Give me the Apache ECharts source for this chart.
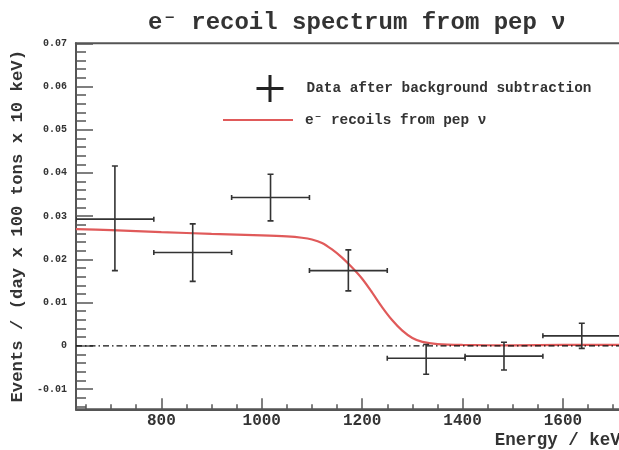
<!DOCTYPE html>
<html>
<head>
<meta charset="utf-8">
<script src="https://cdn.jsdelivr.net/npm/echarts@6/dist/echarts.min.js"></script>
<style>html,body{margin:0;padding:0;background:#fff}#c{width:619px;height:450px}</style>
</head>
<body>
<div id="c"></div>
<script>
// ---- data ----
const binLo     = [630, 785, 940, 1095, 1250, 1405, 1560];
const binHi     = [785, 940, 1095, 1250, 1405, 1560, 1715];
const binCenter = [707.5, 862.5, 1017.5, 1172.5, 1327.5, 1482.5, 1637.5];
const rate      = [0.0293, 0.0216, 0.0343, 0.0174, -0.0029, -0.0024, 0.0023];
const rateLo    = [0.0174, 0.0149, 0.0289, 0.0127, -0.0066, -0.0056, -0.0006];
const rateHi    = [0.0416, 0.0282, 0.0397, 0.0222, 0.0003, 0.0008, 0.0052];

const curveE = [630, 700, 800, 900, 1000, 1050, 1080, 1100, 1120, 1140, 1160, 1180, 1200, 1220, 1240, 1260, 1280, 1300, 1320, 1350, 1400, 1500, 1600, 1715];
const curveY = [0.0270, 0.02675, 0.0263, 0.0259, 0.02555, 0.0253, 0.0250, 0.0246, 0.0238, 0.0223, 0.0204, 0.0181, 0.0155, 0.0123, 0.0089, 0.0059, 0.0035, 0.0018, 0.0009, 0.0004, 0.0002, 0.0001, 0.0002, 0.0002];

const zeroLineE = [630, 1715];
const zeroLineY = [0, 0];

const xTickLabels = [800, 1000, 1200, 1400, 1600];
const yTickLabels = [-0.01, 0, 0.01, 0.02, 0.03, 0.04, 0.05, 0.06, 0.07];

const titleText = 'e\u207B recoil spectrum from pep \u03BD';
const dataName = 'Data after background subtraction';
const curveName = 'e\u207B recoils from pep \u03BD';
const xTitle = 'Energy / keV';
const yTitle = 'Events / (day x 100 tons x 10 keV)';

// ---- ticks ----
const X_MIN = 630, X_MAX = 1715, Y_MIN = -0.0147, Y_MAX = 0.07;
const xMinor = [];
for (let v = 650; v <= 1700; v += 50) if (v % 200 !== 0) xMinor.push(v);
const yMinor = [];
for (let k = -7; k <= 34; k++) { if (k % 5 !== 0) yMinor.push(Math.round(k * 2) / 1000); }

const FONT = '"Liberation Mono", "DejaVu Sans Mono", monospace';
const TXT = '#333';
const FRAME = '#555';

const errData = binCenter.map((c, i) => [c, rate[i], binLo[i], binHi[i], rateLo[i], rateHi[i]]);

function renderErr(params, api) {
  const x = api.value(0), y = api.value(1);
  const pL = api.coord([api.value(2), y]);
  const pH = api.coord([api.value(3), y]);
  const pB = api.coord([x, api.value(4)]);
  const pT = api.coord([x, api.value(5)]);
  const st = { stroke: '#333', lineWidth: 1.6 };
  const line = (x1, y1, x2, y2) => ({ type: 'line', shape: { x1, y1, x2, y2 }, style: st });
  return {
    type: 'group',
    children: [
      line(pL[0], pL[1], pH[0], pH[1]),
      line(pB[0], pB[1], pT[0], pT[1]),
      line(pL[0], pL[1] - 2.5, pL[0], pL[1] + 2.5),
      line(pH[0], pH[1] - 2.5, pH[0], pH[1] + 2.5),
      line(pB[0] - 3, pB[1], pB[0] + 3, pB[1]),
      line(pT[0] - 3, pT[1], pT[0] + 3, pT[1])
    ]
  };
}

const chart = echarts.init(document.getElementById('c'), null, { renderer: 'canvas' });
const axisCommon = { min: X_MIN, max: X_MAX, type: 'value', splitLine: { show: false } };
chart.setOption({
  animation: false,
  backgroundColor: '#fff',
  title: {
    text: titleText, left: 143, top: 6,
    textStyle: { fontFamily: FONT, fontSize: 24, fontWeight: 'bold', color: TXT }
  },
  legend: [
    {
      data: [{ name: dataName, icon: 'path://M12,0H15V12H27V15H15V27H12V15H0V12H12Z' }],
      left: 251.5, top: 70, itemWidth: 27, itemHeight: 27,
      textStyle: { fontFamily: FONT, fontSize: 14.4, fontWeight: 'bold', color: TXT, padding: [7, 0, 0, 18] }
    },
    {
      data: [{ name: curveName, icon: 'rect' }],
      left: 218, top: 108, itemWidth: 70, itemHeight: 2,
      textStyle: { fontFamily: FONT, fontSize: 14.4, fontWeight: 'bold', color: TXT, padding: [0, 0, 0, 7] }
    }
  ],
  grid: {
    left: 76, top: 43.3, width: 544.7, height: 366,
    outerBoundsMode: 'none', containLabel: false,
    show: true, borderColor: FRAME, borderWidth: 2, backgroundColor: 'transparent'
  },
  xAxis: [
    Object.assign({}, axisCommon, {
      name: xTitle, nameLocation: 'end', nameGap: -126,
      nameTextStyle: { fontFamily: FONT, fontSize: 17.5, fontWeight: 'bold', color: TXT, align: 'left', verticalAlign: 'top', padding: [22, 0, 0, 0] },
      axisLine: { show: true, onZero: false, lineStyle: { color: FRAME, width: 2 } },
      axisTick: { show: true, inside: true, length: 11, customValues: xTickLabels, lineStyle: { color: FRAME, width: 1.5 } },
      axisLabel: { show: true, customValues: xTickLabels, margin: 4, fontFamily: FONT, fontSize: 16, fontWeight: 'bold', color: TXT,
        formatter: v => String(v) }
    }),
    Object.assign({}, axisCommon, {
      position: 'bottom',
      axisLine: { show: false, onZero: false },
      axisTick: { show: true, inside: true, length: 5, customValues: xMinor, lineStyle: { color: FRAME, width: 1.5 } },
      axisLabel: { show: false }
    })
  ],
  yAxis: [
    {
      type: 'value', min: Y_MIN, max: Y_MAX, splitLine: { show: false },
      name: yTitle, nameLocation: 'middle', nameGap: 42,
      nameTextStyle: { fontFamily: FONT, fontSize: 17.3, fontWeight: 'bold', color: TXT },
      axisLine: { show: true, onZero: false, lineStyle: { color: FRAME, width: 2 } },
      axisTick: { show: true, inside: true, length: 17, customValues: yTickLabels, lineStyle: { color: FRAME, width: 1.5 } },
      axisLabel: { show: true, customValues: yTickLabels, margin: 9, fontFamily: FONT, fontSize: 10, fontWeight: 'bold', color: TXT,
        formatter: v => String(v) }
    },
    {
      type: 'value', min: Y_MIN, max: Y_MAX, splitLine: { show: false }, position: 'left',
      axisLine: { show: false, onZero: false },
      axisTick: { show: true, inside: true, length: 10, customValues: yMinor, lineStyle: { color: FRAME, width: 1.5 } },
      axisLabel: { show: false }
    }
  ],
  series: [
    {
      name: curveName, type: 'line', smooth: 0.3, symbol: 'none',
      data: curveE.map((e, i) => [e, curveY[i]]),
      lineStyle: { color: '#e05a5a', width: 2.2 }, itemStyle: { color: '#e05a5a' }, z: 2
    },
    {
      name: 'zero', type: 'line', symbol: 'none', silent: true,
      data: zeroLineE.map((e, i) => [e, zeroLineY[i]]),
      lineStyle: { color: '#111', width: 1.3, type: [6, 3, 1.5, 3] }, z: 3
    },
    {
      name: dataName, type: 'custom', renderItem: renderErr, clip: true,
      itemStyle: { color: '#222' },
      encode: { x: 0, y: 1 },
      data: errData, z: 4
    }
  ]
});
</script>
</body>
</html>
